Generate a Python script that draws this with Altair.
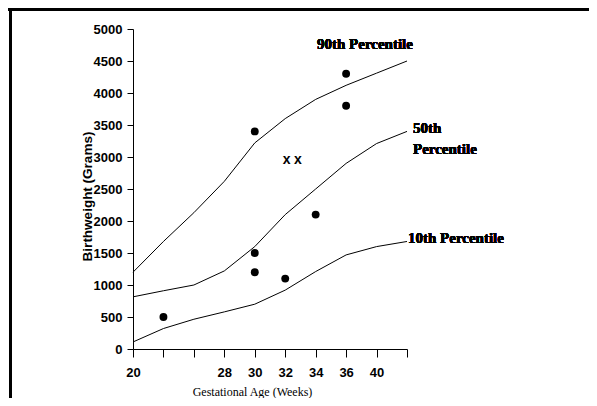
import json
import altair as alt
import pandas as pd

# x axis: evenly spaced tick slots, labelled as in the original figure
slots = list(range(10))
slot_labels = ["20", "", "", "28", "30", "32", "34", "36", "40", ""]

# percentile curves (birthweight in grams at each tick slot)
p90 = [1200, 1680, 2130, 2620, 3220, 3600, 3900, 4120, 4310, 4500]
p50 = [815, 910, 1000, 1220, 1600, 2100, 2500, 2900, 3210, 3400]
p10 = [110, 320, 465, 580, 700, 920, 1210, 1470, 1600, 1680]

# observed cases (filled dots)
dot_slot = [1, 4, 4, 4, 5, 6, 7, 7]
dot_weight = [500, 1500, 1200, 3400, 1100, 2100, 4300, 3800]

# "x" markers
cross_slot = [5.05, 5.42]
cross_weight = [2960, 2960]

y_ticks = list(range(0, 5001, 500))

curves = pd.DataFrame(
    [{"slot": s, "weight": w, "series": "90th"} for s, w in zip(slots, p90)]
    + [{"slot": s, "weight": w, "series": "50th"} for s, w in zip(slots, p50)]
    + [{"slot": s, "weight": w, "series": "10th"} for s, w in zip(slots, p10)]
)
dots = pd.DataFrame({"slot": dot_slot, "weight": dot_weight})
crosses = pd.DataFrame({"slot": cross_slot, "weight": cross_weight})

xscale = alt.Scale(domain=[0, 9], nice=False, zero=False)
yscale = alt.Scale(domain=[0, 5000], nice=False)

label_expr = json.dumps(slot_labels) + "[datum.value]"

xaxis = alt.Axis(
    values=slots, labelExpr=label_expr, tickSize=8, labelPadding=9,
    labelFont="Liberation Sans", labelFontWeight="bold", labelFontSize=13,
    labelColor="black", domainColor="black", tickColor="black",
    domainWidth=1, tickWidth=1, grid=False, labelFlush=False, labelOverlap=False,
    title="Gestational Age (Weeks)", titleFont="Liberation Serif", titleFontSize=12,
    titleFontWeight="normal", titleColor="black", titleX=119, titleY=46,
    titleAlign="center", titleBaseline="alphabetic",
)
yaxis = alt.Axis(
    values=y_ticks, format="d", tickSize=6, labelPadding=5,
    labelFont="Liberation Sans", labelFontWeight="bold", labelFontSize=13,
    labelColor="black", domainColor="black", tickColor="black",
    domainWidth=1, tickWidth=1, grid=False, labelFlush=False, labelOverlap=False,
    title="Birthweight (Grams)", titleFont="Liberation Sans", titleFontSize=13.5,
    titleFontWeight="bold", titleColor="black", titleX=-46, titleY=167,
    titleAngle=270, titleAlign="center", titleBaseline="middle",
)

X = alt.X("slot:Q", scale=xscale, axis=xaxis)
Y = alt.Y("weight:Q", scale=yscale, axis=yaxis)

lines = alt.Chart(curves).mark_line(color="black", strokeWidth=1).encode(
    x=X, y=Y, detail="series:N",
)

dot_layer = alt.Chart(dots).mark_circle(size=62, color="black", opacity=1).encode(
    x=X, y=Y,
)

cross_layer = alt.Chart(crosses).mark_text(
    text="x", font="Liberation Sans", fontWeight="bold", fontSize=14,
    align="center", baseline="middle", color="black",
).encode(x=X, y=Y)

def label(text, px, py):
    return alt.Chart(dots).mark_text(
        text=text, font="Liberation Serif", fontWeight="bold", fontSize=15,
        align="left", baseline="alphabetic", color="black", lineHeight=21,
    ).encode(x=alt.value(px), y=alt.value(py))

lab90 = label("90th Percentile", 184, 20)
lab50 = label(["50th", "Percentile"], 280, 104)
lab10 = label("10th Percentile", 275, 214)

top_border = alt.Chart(dots).mark_rule(color="black", strokeWidth=3).encode(
    x=alt.value(-125), x2=alt.value(456), y=alt.value(-19.5)
)
left_border = alt.Chart(dots).mark_rule(color="black", strokeWidth=3).encode(
    x=alt.value(-122.5), y=alt.value(-21), y2=alt.value(369)
)

chart = alt.layer(
    lines, dot_layer, cross_layer, lab90, lab50, lab10, top_border, left_border
).properties(
    width=274, height=320,
    padding={"left": 125, "top": 21, "right": 182, "bottom": 49},
    autosize=alt.AutoSizeParams(type="none"),
    background="white",
).configure_view(stroke="transparent")

chart.save("out.html", embed_options={"renderer": "svg", "actions": False})
